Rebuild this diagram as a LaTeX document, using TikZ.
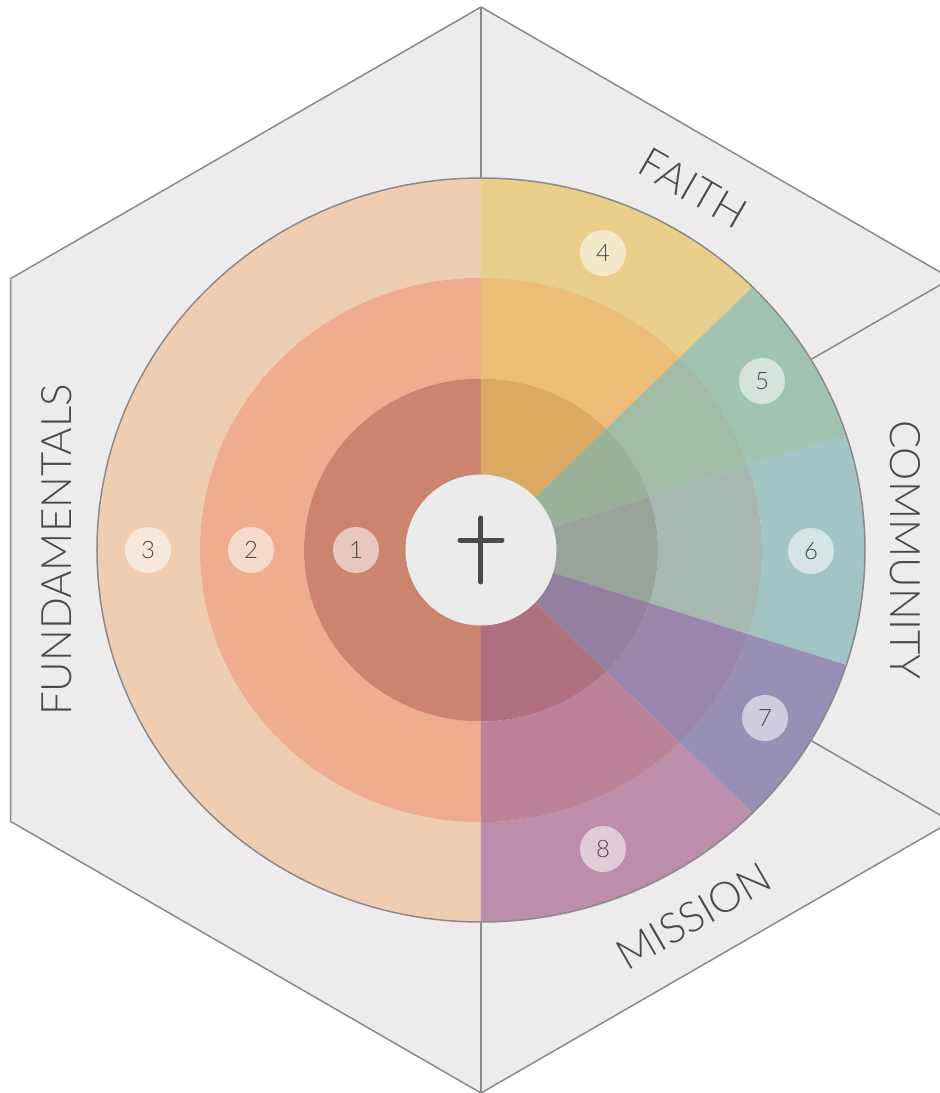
\documentclass[tikz,border=0pt]{standalone}
\usepackage{fontspec}
\newfontfamily\lbl{Lato Light}
\definecolor{hexfill}{HTML}{EDEBEC}
\definecolor{hexline}{HTML}{8A8A8A}
\definecolor{corefill}{HTML}{EBEBEB}
\definecolor{txt}{HTML}{4A4A4A}
\definecolor{Lo}{HTML}{EFCDB3}\definecolor{Lm}{HTML}{EDAD8E}\definecolor{Li}{HTML}{CC846F}
\definecolor{Yo}{HTML}{E9CF89}\definecolor{Ym}{HTML}{ECBD76}\definecolor{Yi}{HTML}{DBA962}
\definecolor{Go}{HTML}{A1C4B2}\definecolor{Gm}{HTML}{A2BCA8}\definecolor{Gi}{HTML}{9AB19A}
\definecolor{To}{HTML}{A2C4C5}\definecolor{Tm}{HTML}{A7B7B2}\definecolor{Ti}{HTML}{9AA39A}
\definecolor{Po}{HTML}{978FB4}\definecolor{Pm}{HTML}{9887AB}\definecolor{Pi}{HTML}{92809E}
\definecolor{Ko}{HTML}{BC8EAC}\definecolor{Km}{HTML}{BB8399}\definecolor{Ki}{HTML}{AF7081}
\newcommand{\band}[5]{\fill[#1] (#2:#4) arc[start angle=#2,end angle=#3,radius=#4] -- (#3:#5) arc[start angle=#3,end angle=#2,radius=#5] -- cycle;}
\newcommand{\wedgeset}[5]{\band{#1}{#2}{#3}{384}{281}\band{#4}{#2}{#3}{281}{177}\fill[#5] (0,0) -- (#2:177) arc[start angle=#2,end angle=#3,radius=177] -- cycle;}
\tikzset{
  num/.style={circle, minimum size=46pt, inner sep=0pt, fill=white, fill opacity=0.55, text opacity=1, text=txt, font=\lbl\fontsize{24}{24}\selectfont},
  sect/.style={text=txt, font=\lbl\fontsize{42}{42}\selectfont, inner sep=0pt},
  divider/.style={draw=hexline, line width=1.5pt}
}
\begin{document}
\begin{tikzpicture}[x=1pt,y=1pt]
\useasboundingbox (-481,-543) rectangle (459,550);
% hexagon
\draw[fill=hexfill, draw=hexline, line width=1.5pt, line join=round] (90:543) -- (30:543) -- (-30:543) -- (-90:543) -- (-150:543) -- (150:543) -- cycle;
\coordinate (vT) at (90:543); \coordinate (vB) at (-90:543);
\coordinate (vR1) at (30:543); \coordinate (vR2) at (-30:543);
\coordinate (cT) at (0,372); \coordinate (cB) at (0,-372);
\coordinate (cR1) at (330.3,190.7); \coordinate (cR2) at (330.3,-190.7);
\draw[divider] (vT) -- (cT);
\draw[divider] (vB) -- (cB);
\draw[divider] (vR1) -- (cR1);
\draw[divider] (vR2) -- (cR2);
\begin{scope}[yscale=0.96875]
% left half
\wedgeset{Lo}{90}{270}{Lm}{Li}
% right sectors
\wedgeset{Yo}{45}{90}{Ym}{Yi}
\wedgeset{Go}{18}{45}{Gm}{Gi}
\wedgeset{To}{-18}{18}{Tm}{Ti}
\wedgeset{Po}{-45}{-18}{Pm}{Pi}
\wedgeset{Ko}{-90}{-45}{Km}{Ki}
\end{scope}
% outer circle
\draw[draw=hexline, line width=1.5pt] (0,0) ellipse [x radius=384, y radius=372];
% centre
\node[circle, fill=corefill, minimum size=151pt, inner sep=0pt] (core) at (0,0) {};
\coordinate (crT) at (0,32); \coordinate (crB) at (0,-32);
\coordinate (crL) at (-21,10); \coordinate (crR) at (21,10);
\draw[line width=5pt, line cap=round, draw=txt] (crT) -- (crB);
\draw[line width=5pt, line cap=round, draw=txt] (crL) -- (crR);
% numbers
\node[num] (n1) at (-125,0) {1};
\node[num] (n2) at (-230,0) {2};
\node[num] (n3) at (-333,0) {3};
\node[num] (n4) at (122,297) {4};
\node[num] (n5) at (281,169) {5};
\node[num] (n6) at (330,-1) {6};
\node[num] (n7) at (284,-168) {7};
\node[num] (n8) at (122,-299) {8};
% section labels
\node[sect, rotate=-30] (faith) at (212,362) {FAITH};
\node[sect, rotate=-90] (comm) at (424,0) {COMMUNITY};
\node[sect, rotate=30] (miss) at (213,-366) {MISSION};
\node[sect, rotate=90] (fund) at (-424,0) {FUNDAMENTALS};
\end{tikzpicture}
\end{document}
